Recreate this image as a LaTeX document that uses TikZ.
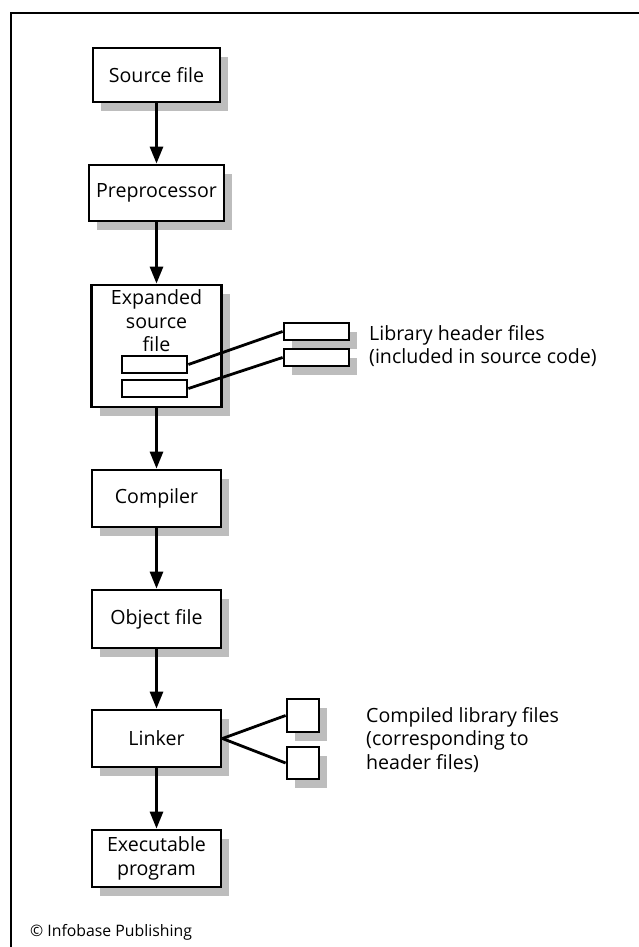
\documentclass[tikz,border=0pt]{standalone}
\usepackage{fontspec}
\setmainfont{Open Sans}
\usetikzlibrary{arrows.meta,shadows}
\definecolor{shadowgray}{HTML}{BDBDBD}
\begin{document}
\begin{tikzpicture}[x=1pt,y=-1pt,
  every node/.style={font=\fontsize{19.6}{23.5}\selectfont, inner sep=0pt},
  shbox/.style={draw, line width=2.8pt, fill=white, rectangle,
    drop shadow={shadow xshift=8pt, shadow yshift=-9pt, fill=shadowgray, opacity=1}},
  plainbox/.style={draw, line width=2.8pt, fill=white, rectangle},
  flow/.style={line width=2.8pt, -{Triangle[length=17pt,width=13pt]}},
  link/.style={line width=2.8pt},
  lbl/.style={anchor=west, align=left}]
\useasboundingbox (0,0) rectangle (639,947);
\fill[white] (0,0) rectangle (639,947);
% frame
\coordinate (f1) at (11,947);
\coordinate (f2) at (11,13);
\coordinate (f3) at (639,13);
\draw[line width=1.4pt] (f1) -- (f2) -- (f3);

\node[shbox, minimum width=127pt, minimum height=54pt] (src) at (156.5,75) {Source file};
\node[shbox, minimum width=135pt, minimum height=56pt] (pre) at (156.5,193) {Preprocessor};
\node[shbox, minimum width=130pt, minimum height=122pt] (exp) at (156.5,346) {};
\node[align=center] (exptxt) at (156.5,321) {Expanded\\source\\file};
\node[plainbox, minimum width=65pt, minimum height=17pt] (r1) at (154.5,364.5) {};
\node[plainbox, minimum width=65pt, minimum height=17pt] (r2) at (154.5,388.5) {};
\node[shbox, minimum width=65pt, minimum height=17pt] (h1) at (316.5,331.5) {};
\node[shbox, minimum width=65pt, minimum height=17pt] (h2) at (316.5,357.5) {};
\node[lbl] (hlbl) at (369,346) {Library header files\\(included in source code)};

\node[shbox, minimum width=129pt, minimum height=57pt] (comp) at (156.5,498.5) {Compiler};
\node[shbox, minimum width=129pt, minimum height=58pt] (obj) at (156.5,619) {Object file};
\node[shbox, minimum width=129pt, minimum height=57pt] (lnk) at (156.5,738.5) {Linker};
\node[shbox, minimum width=32pt, minimum height=33pt] (s1) at (303,715.5) {};
\node[shbox, minimum width=32pt, minimum height=32pt] (s2) at (303,763) {};
\node[lbl] (clbl) at (366,740) {Compiled library files\\(corresponding to\\header files)};
\node[shbox, minimum width=129pt, minimum height=57pt, align=center] (exe) at (156.5,858.5) {Executable\\program};

\node[anchor=west, font=\fontsize{15.8}{19}\selectfont] (copy) at (30,932) {© Infobase Publishing};

\draw[flow] (src) -- (pre);
\draw[flow] (pre) -- (exp);
\draw[flow] (exp) -- (comp);
\draw[flow] (comp) -- (obj);
\draw[flow] (obj) -- (lnk);
\draw[flow] (lnk) -- (exe);
\draw[link] (r1.east) -- (h1.west);
\draw[link] (r2.east) -- (h2.west);
\draw[link] (lnk.east) -- (s1.west);
\draw[link] (lnk.east) -- (s2.west);
\end{tikzpicture}
\end{document}
